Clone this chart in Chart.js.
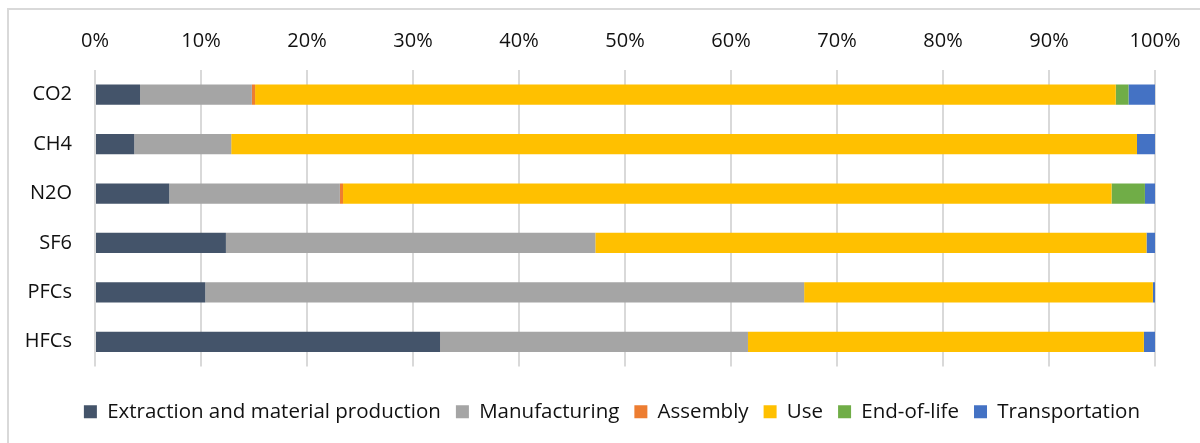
<!DOCTYPE html>
<html>
<head>
<meta charset="utf-8">
<script src="https://cdn.jsdelivr.net/npm/chart.js@4/dist/chart.umd.min.js"></script>
<style>
  html, body { margin: 0; padding: 0; background: #fff; }
  #wrap { position: relative; width: 1200px; height: 443px; }
  #frame {
    position: absolute; left: 7px; top: 8px; right: 0; bottom: 0;
    border-left: 2px solid #d9d9d9; border-top: 2px solid #d9d9d9;
  }
  #chart-canvas { position: absolute; left: 0; top: 0; }
</style>
</head>
<body>
<div id="wrap">
  <div id="frame"></div>
  <canvas id="chart-canvas" width="1200" height="443"></canvas>
</div>
<script>
// share of each life-cycle stage per gas (%)
const gases = ["CO2", "CH4", "N2O", "SF6", "PFCs", "HFCs"];
const extraction = [4.25, 3.7, 7.0, 12.35, 10.4, 32.55];
const manufacturing = [10.55, 9.15, 16.1, 34.85, 56.5, 29.05];
const assembly = [0.3, 0, 0.3, 0, 0, 0];
const use = [81.2, 85.45, 72.5, 52.0, 32.9, 37.35];
const endOfLife = [1.2, 0, 3.15, 0, 0, 0];
const transportation = [2.5, 1.7, 0.95, 0.8, 0.2, 1.05];
const xTicks = [0, 10, 20, 30, 40, 50, 60, 70, 80, 90, 100];

const tickFont = { family: "'Open Sans', sans-serif", size: 20 };
const legendFont = { family: "'Open Sans', sans-serif", size: 20.5 };

const makeSet = (label, data, color) => {
  return {
    label: label,
    data: data,
    backgroundColor: color,
    borderWidth: 0,
    categoryPercentage: 1,
    barPercentage: 0.41,
  };
};

let ctx = document.getElementById("chart-canvas");

let stageChart = new Chart(ctx, {
  type: "bar",
  data: {
    labels: gases,
    datasets: [
      makeSet("Extraction and material production", extraction, "#44546A"),
      makeSet("Manufacturing", manufacturing, "#A5A5A5"),
      makeSet("Assembly", assembly, "#ED7D31"),
      makeSet("Use", use, "#FFC000"),
      makeSet("End-of-life", endOfLife, "#70AD47"),
      makeSet("Transportation", transportation, "#4472C4"),
    ],
  },
  options: {
    indexAxis: "y",
    responsive: false,
    animation: false,
    layout: { padding: { top: 20, right: 45, bottom: 11, left: 0 } },
    plugins: {
      tooltip: { enabled: false },
      legend: {
        position: "bottom",
        align: "end",
        // empty title only reserves some space above the legend row
        title: { display: true, text: "", font: { size: 10 }, padding: { top: 4, bottom: 4 } },
        labels: {
          font: legendFont,
          color: "#111",
          boxWidth: 13,
          boxHeight: 13,
          padding: 15,
        },
      },
    },
    scales: {
      x: {
        position: "top",
        stacked: true,
        min: 0,
        max: 100,
        afterBuildTicks: (scale) => {
          scale.ticks = xTicks.map((v) => ({ value: v }));
        },
        afterFit: (scale) => {
          scale.height = 50;
        },
        grid: { color: "#d9d9d9", lineWidth: 2, drawTicks: false },
        border: { display: false },
        ticks: {
          font: tickFont,
          color: "#111",
          padding: 17,
          callback: (v) => v + "%",
        },
      },
      y: {
        stacked: true,
        afterFit: (scale) => {
          scale.width = 95;
        },
        grid: { display: false },
        border: { display: false },
        ticks: { font: tickFont, color: "#111", padding: 15 },
      },
    },
  },
});
</script>
</body>
</html>
